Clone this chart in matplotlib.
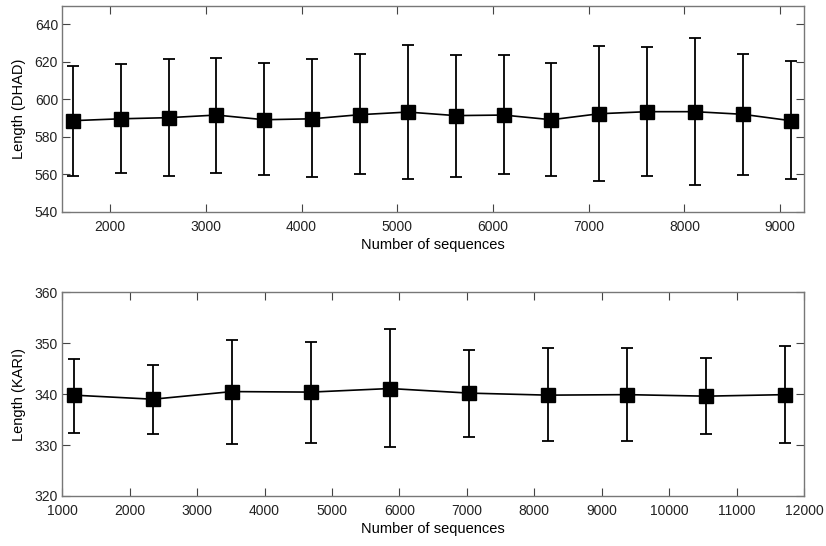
import numpy as np
import matplotlib.pyplot as plt

plt.rcParams['font.family'] = ['Liberation Sans', 'DejaVu Sans']

# DHAD panel
dhad_n = [1610, 2110, 2610, 3110, 3610, 4110, 4610, 5110, 5610, 6110, 6610, 7110, 7610, 8110, 8610, 9110]
dhad_mean = [588.6, 589.6, 590.2, 591.6, 589.1, 589.6, 591.8, 593.2, 591.3, 591.6, 589.1, 592.3, 593.4, 593.4, 592.0, 588.6]
dhad_hi = [617.7, 619.0, 621.3, 622.3, 619.3, 621.3, 624.1, 628.9, 623.8, 623.4, 619.3, 628.6, 627.9, 632.9, 624.1, 620.7]
dhad_lo = [559.3, 560.7, 559.3, 560.7, 559.5, 558.4, 560.0, 557.7, 558.6, 560.2, 559.3, 556.4, 558.9, 554.5, 559.8, 557.3]

# KARI panel
kari_n = [1172, 2344, 3516, 4688, 5860, 7032, 8204, 9376, 10548, 11720]
kari_mean = [339.8, 339.0, 340.5, 340.4, 341.1, 340.2, 339.8, 339.9, 339.6, 339.9]
kari_hi = [346.9, 345.8, 350.7, 350.3, 352.7, 348.7, 349.0, 349.1, 347.1, 349.5]
kari_lo = [332.3, 332.2, 330.2, 330.4, 329.6, 331.6, 330.7, 330.8, 332.1, 330.4]

fig = plt.figure(figsize=(8.26, 5.46), dpi=100)
ax1 = fig.add_axes([0.0754, 0.6123, 0.898, 0.3773])
ax2 = fig.add_axes([0.0754, 0.0916, 0.898, 0.3731])


def draw(ax, x, mean, hi, lo, ylabel):
    mean = np.array(mean)
    yerr = [mean - np.array(lo), np.array(hi) - mean]
    ax.errorbar(x, mean, yerr=yerr, color='black', marker='s', markersize=9.5,
                linewidth=1.2, elinewidth=1.3, capsize=4, capthick=1.3)
    ax.set_xlabel('Number of sequences', fontsize=10.5, labelpad=3)
    ax.set_ylabel(ylabel, fontsize=10.5, labelpad=6)
    ax.tick_params(direction='in', length=5.5, width=0.8, top=True, right=True,
                   labelsize=10, colors='#444444', labelcolor='#222222')
    ax.tick_params(axis='x', pad=6)
    ax.tick_params(axis='y', pad=3)
    for s in ax.spines.values():
        s.set_color('#777777')
        s.set_linewidth(1.0)


draw(ax1, dhad_n, dhad_mean, dhad_hi, dhad_lo, 'Length (DHAD)')
ax1.set_xlim(1500, 9250)
ax1.set_ylim(540, 650)
ax1.set_xticks(range(2000, 9001, 1000))
ax1.set_yticks(range(540, 641, 20))

draw(ax2, kari_n, kari_mean, kari_hi, kari_lo, 'Length (KARI)')
ax2.set_xlim(1000, 12000)
ax2.set_ylim(320, 360)
ax2.set_xticks(range(1000, 12001, 1000))
ax2.set_yticks(range(320, 361, 10))

fig.savefig('out.png', dpi=100)
